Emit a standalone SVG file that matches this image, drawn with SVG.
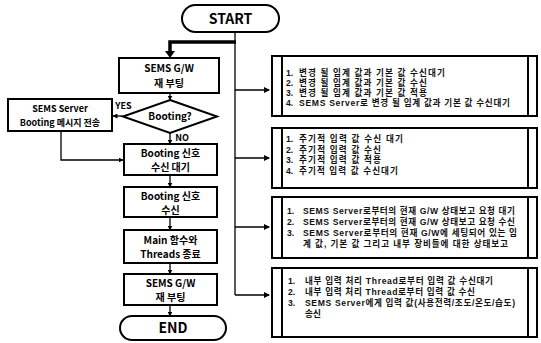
<svg xmlns="http://www.w3.org/2000/svg" width="541" height="343" viewBox="0 0 541 343">
<defs>
<marker id="ah" markerWidth="6" markerHeight="6" refX="5" refY="3" orient="auto" markerUnits="userSpaceOnUse"><path d="M0,0 L6,3 L0,6 z" fill="#000"/></marker>
<marker id="ahs" markerWidth="5" markerHeight="5" refX="4.5" refY="2.5" orient="auto" markerUnits="userSpaceOnUse"><path d="M0,0 L5,2.5 L0,5 z" fill="#000"/></marker>
</defs>
<style>
.b{fill:#fff;stroke:#000;stroke-width:2}
.t{font-family:"Noto Sans CJK KR","Noto Sans",sans-serif;font-weight:bold;fill:#000;text-anchor:middle}
.n{font-size:10px}
.big{font-size:14px}
.l{font-family:"Liberation Sans","Noto Sans CJK KR",sans-serif;font-weight:bold;fill:#111;font-size:8.6px}
.c{fill:none;stroke:#000;stroke-width:1.3}
.v{stroke:#000;stroke-width:2}
</style>
<g id="connectors">
<line class="c" x1="235" y1="32" x2="235" y2="295"/>
<polyline fill="none" stroke="#000" stroke-width="3.5" points="236,42 170,42 170,52"/>
<path d="M165,51 L175,51 L170,58 z" fill="#000"/>
<line class="c" x1="235" y1="90" x2="269" y2="90" marker-end="url(#ah)"/>
<line class="c" x1="235" y1="158" x2="269" y2="158" marker-end="url(#ah)"/>
<line class="c" x1="235" y1="227" x2="269" y2="227" marker-end="url(#ah)"/>
<line class="c" x1="235" y1="295" x2="269" y2="295" marker-end="url(#ah)"/>
<line class="c" x1="170" y1="93" x2="170" y2="100" marker-end="url(#ahs)"/>
<line class="c" x1="123" y1="116" x2="113" y2="116" marker-end="url(#ahs)"/>
<line class="c" x1="170" y1="133" x2="170" y2="144" marker-end="url(#ahs)"/>
<polyline class="c" points="61,131 61,160 123,160" marker-end="url(#ahs)"/>
<line class="c" x1="170" y1="175" x2="170" y2="187" marker-end="url(#ahs)"/>
<line class="c" x1="170" y1="217" x2="170" y2="230" marker-end="url(#ahs)"/>
<line class="c" x1="170" y1="263" x2="170" y2="274" marker-end="url(#ahs)"/>
<line class="c" x1="170" y1="305" x2="170" y2="316" marker-end="url(#ahs)"/>
</g>
<g id="start">
<rect class="b" x="182" y="5" width="97" height="27" rx="13.5"/>
<text class="t big" x="230.5" y="23.5">START</text>
</g>
<g id="reboot1">
<rect class="b" x="119" y="58" width="100" height="35"/>
<text class="t n" x="169" y="72">SEMS G/W</text>
<text class="t n" x="169" y="87">재 부팅</text>
</g>
<g id="decision">
<polygon class="b" points="170,100 217,116.5 170,133 123,116.5"/>
<text class="t n" x="170" y="120">Booting?</text>
<text class="t" style="font-size:9px" x="123.5" y="109">YES</text>
<text class="t" style="font-size:9px" x="182" y="141">NO</text>
</g>
<g id="server-msg">
<rect class="b" x="8" y="99" width="104" height="32"/>
<text class="t" style="font-size:9px" x="60" y="112">SEMS Server</text>
<text class="t" style="font-size:9px" x="60" y="126">Booting 메시지 전송</text>
</g>
<g id="wait">
<rect class="b" x="124" y="144" width="93" height="31"/>
<text class="t n" x="170.5" y="157">Booting 신호</text>
<text class="t n" x="170.5" y="171">수신 대기</text>
</g>
<g id="recv">
<rect class="b" x="124" y="187" width="93" height="30"/>
<text class="t n" x="170.5" y="200">Booting 신호</text>
<text class="t n" x="170.5" y="214">수신</text>
</g>
<g id="main-end">
<rect class="b" x="124" y="230" width="93" height="33"/>
<text class="t n" x="170.5" y="244">Main 함수와</text>
<text class="t n" x="170.5" y="258">Threads 종료</text>
</g>
<g id="reboot2">
<rect class="b" x="124" y="274" width="93" height="31"/>
<text class="t n" x="170.5" y="287">SEMS G/W</text>
<text class="t n" x="170.5" y="301">재 부팅</text>
</g>
<g id="end">
<rect class="b" x="120" y="316" width="106" height="24" rx="12"/>
<text class="t big" x="173" y="333">END</text>
</g>
<g id="box1">
<rect class="b" x="272" y="56" width="265" height="60"/>
<line class="v" x1="282" y1="56" x2="282" y2="116"/>
<line class="v" x1="528" y1="56" x2="528" y2="116"/>
<text class="l" x="286" y="76">1.</text>
<text class="l" x="299" y="76" textLength="146" lengthAdjust="spacing">변경 될 임계 값과 기본 값 수신대기</text>
<text class="l" x="286" y="86">2.</text>
<text class="l" x="299" y="86" textLength="128" lengthAdjust="spacing">변경 될 임계 값과 기본 값 수신</text>
<text class="l" x="286" y="96">3.</text>
<text class="l" x="299" y="96" textLength="128" lengthAdjust="spacing">변경 될 임계 값과 기본 값 적용</text>
<text class="l" x="286" y="106">4.</text>
<text class="l" x="299" y="106" textLength="211" lengthAdjust="spacing">SEMS Server로 변경 될 임계 값과 기본 값 수신대기</text>
</g>
<g id="box2">
<rect class="b" x="272" y="128" width="265" height="60"/>
<line class="v" x1="282" y1="128" x2="282" y2="188"/>
<line class="v" x1="528" y1="128" x2="528" y2="188"/>
<text class="l" x="286" y="142">1.</text>
<text class="l" x="299" y="142" textLength="104" lengthAdjust="spacing">주기적 입력 값 수신 대기</text>
<text class="l" x="286" y="152.5">2.</text>
<text class="l" x="299" y="152.5" textLength="82" lengthAdjust="spacing">주기적 입력 값 수신</text>
<text class="l" x="286" y="163">3.</text>
<text class="l" x="299" y="163" textLength="82" lengthAdjust="spacing">주기적 입력 값 적용</text>
<text class="l" x="286" y="173.5">4.</text>
<text class="l" x="299" y="173.5" textLength="99" lengthAdjust="spacing">주기적 입력 값 수신대기</text>
</g>
<g id="box3">
<rect class="b" x="272" y="197" width="265" height="61"/>
<line class="v" x1="282" y1="197" x2="282" y2="258"/>
<line class="v" x1="528" y1="197" x2="528" y2="258"/>
<text class="l" x="287" y="214">1.</text>
<text class="l" x="303" y="214" textLength="212" lengthAdjust="spacing">SEMS Server로부터의 현재 G/W 상태보고 요청 대기</text>
<text class="l" x="287" y="225">2.</text>
<text class="l" x="303" y="225" textLength="212" lengthAdjust="spacing">SEMS Server로부터의 현재 G/W 상태보고 요청 수신</text>
<text class="l" x="287" y="236">3.</text>
<text class="l" x="303" y="236" textLength="214" lengthAdjust="spacing">SEMS Server로부터의 현재 G/W에 세팅되어 있는 임</text>
<text class="l" x="303" y="247" textLength="205" lengthAdjust="spacing">계 값, 기본 값 그리고 내부 장비들에 대한 상태보고</text>
</g>
<g id="box4">
<rect class="b" x="272" y="268" width="265" height="69"/>
<line class="v" x1="282" y1="268" x2="282" y2="337"/>
<line class="v" x1="528" y1="268" x2="528" y2="337"/>
<text class="l" x="288" y="284">1.</text>
<text class="l" x="305" y="284" textLength="188" lengthAdjust="spacing">내부 입력 처리 Thread로부터 입력 값 수신대기</text>
<text class="l" x="288" y="295">2.</text>
<text class="l" x="305" y="295" textLength="170" lengthAdjust="spacing">내부 입력 처리 Thread로부터 입력 값 수신</text>
<text class="l" x="288" y="306">3.</text>
<text class="l" x="305" y="306" textLength="210" lengthAdjust="spacing">SEMS Server에게 입력 값(사용전력/조도/온도/습도)</text>
<text class="l" x="305" y="317">송신</text>
</g>
</svg>
